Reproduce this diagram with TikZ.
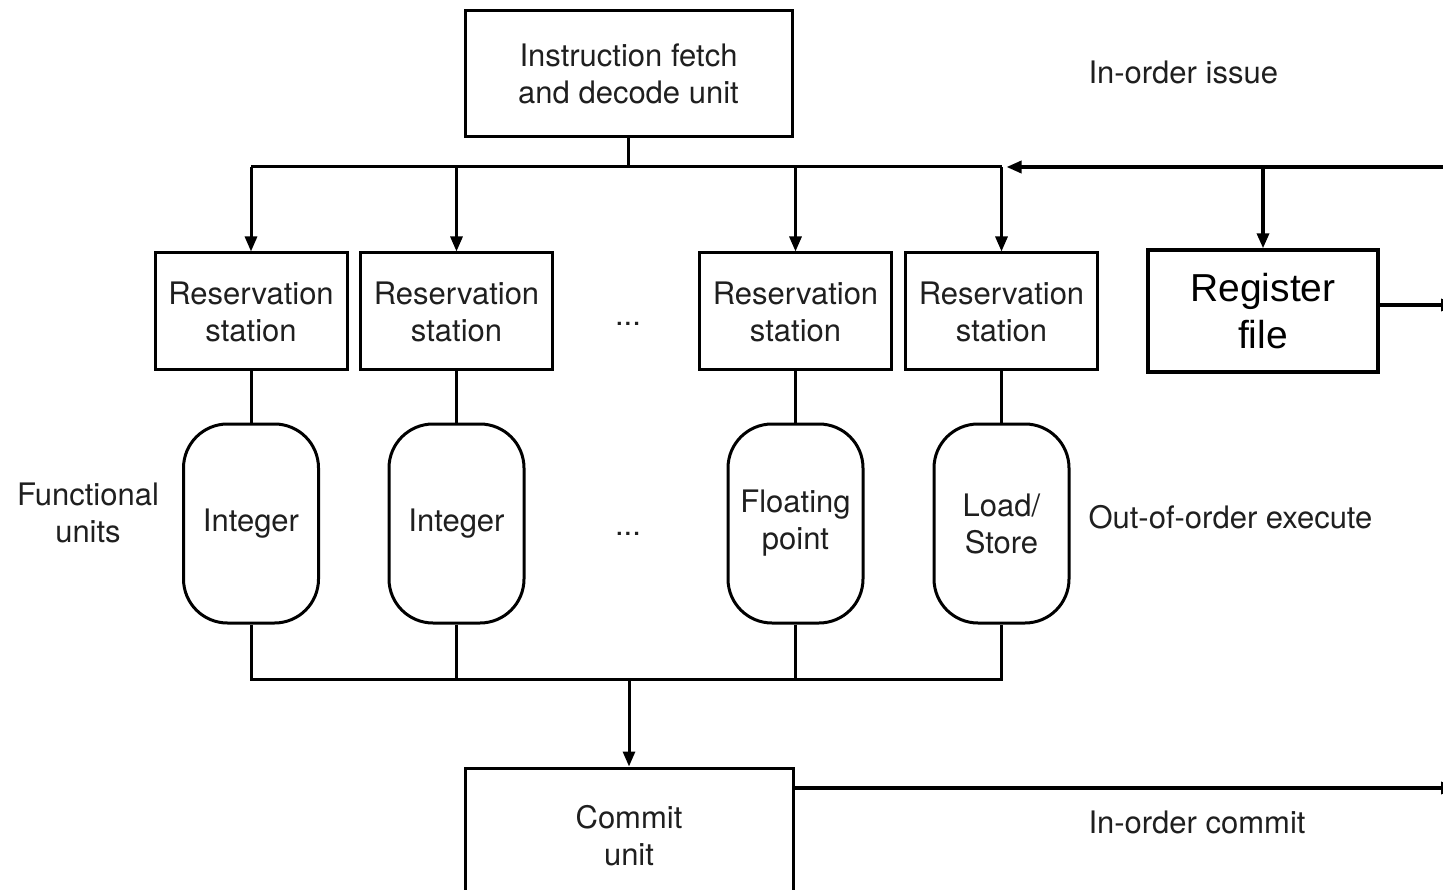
\documentclass[tikz,border=0pt]{standalone}
\usepackage{fontspec}
\setmainfont{TeX Gyre Heros}
\newfontfamily\regfont{Liberation Sans}
\usetikzlibrary{arrows.meta}
\begin{document}
\begin{tikzpicture}[x=1pt,y=-1pt,
  line width=3pt,
  every node/.style={font=\fontsize{31}{37}\selectfont, text=black!88, inner sep=0pt},
  sqbox/.style 2 args={draw, minimum width=#1, minimum height=#2, align=center},
  fubox/.style={draw, rounded corners=44pt, minimum width=135pt, minimum height=199pt, align=center},
  tip/.style={-{Triangle[length=15pt,width=12pt]}},
  heavy/.style={line width=3.4pt},
  note/.style={anchor=west}
]
\useasboundingbox (0,0) rectangle (1443,890);
\fill[white] (0,0) rectangle (1443,890);
\clip (0,0) rectangle (1443,890);

% fetch / decode and the reservation stations
\node[sqbox={327pt}{126pt}] (fetch) at (628.5,74) {Instruction fetch\\and decode unit};
\node[sqbox={192pt}{117pt}] (rs1) at (251,311.5) {Reservation\\station};
\node[sqbox={192pt}{117pt}] (rs2) at (456.5,311.5) {Reservation\\station};
\node[sqbox={192pt}{117pt}] (rs3) at (795.5,311.5) {Reservation\\station};
\node[sqbox={192pt}{117pt}] (rs4) at (1001.5,311.5) {Reservation\\station};
\node (dotsA) at (628,324) {...};

% register file
\node[sqbox={230pt}{122pt}, heavy, font=\regfont\fontsize{39}{47}\selectfont, text=black] (reg) at (1263,311) {Register\\file};

% functional units
\node[fubox] (fu1) at (251,523.5) {Integer};
\node[fubox] (fu2) at (456.5,523.5) {Integer};
\node[fubox] (fu3) at (795.5,523.5) {Floating\\point};
\node[fubox] (fu4) at (1001.5,523.5) {Load/\\Store};
\node (dotsB) at (628,534) {...};
\node[align=center] (fulabel) at (88,513) {Functional\\units};

% commit unit
\node[sqbox={328pt}{136pt}] (commit) at (629,836) {Commit\\unit};

% side labels
\node[note] (issue) at (1087,72) {In-order issue};
\node[note] (exec) at (1087,517) {Out-of-order execute};
\node[note] (retire) at (1087,822) {In-order commit};

% bus coordinates
\coordinate (busL) at (251,167);
\coordinate (busR) at (1446,167);
\coordinate (busB) at (251,679);
\coordinate (regout) at (1456,305);
\coordinate (commout) at (1456,788);

% issue bus
\draw (fetch.south) -- (fetch.south |- busL);
\draw (busL) -- (rs4.north |- busL);
\draw[tip, heavy] (busR) -- ([xshift=5pt]rs4.north |- busL);
\draw[tip] (busL) -- (rs1.north);
\draw[tip] (rs2.north |- busL) -- (rs2.north);
\draw[tip] (rs3.north |- busL) -- (rs3.north);
\draw[tip] (rs4.north |- busL) -- (rs4.north);
\draw[tip, heavy] (reg.north |- busL) -- (reg.north);
\draw[tip, heavy] (reg.east |- regout) -- (regout);

% stations to units
\draw (rs1.south) -- (fu1.north);
\draw (rs2.south) -- (fu2.north);
\draw (rs3.south) -- (fu3.north);
\draw (rs4.south) -- (fu4.north);

% result bus
\draw (fu1.south) -- (fu1.south |- busB) -- (fu4.south |- busB) -- (fu4.south);
\draw (fu2.south) -- (fu2.south |- busB);
\draw (fu3.south) -- (fu3.south |- busB);
\draw[tip] (commit.north |- busB) -- (commit.north);
\draw[tip, heavy] (commit.east |- commout) -- (commout);
\end{tikzpicture}
\end{document}
